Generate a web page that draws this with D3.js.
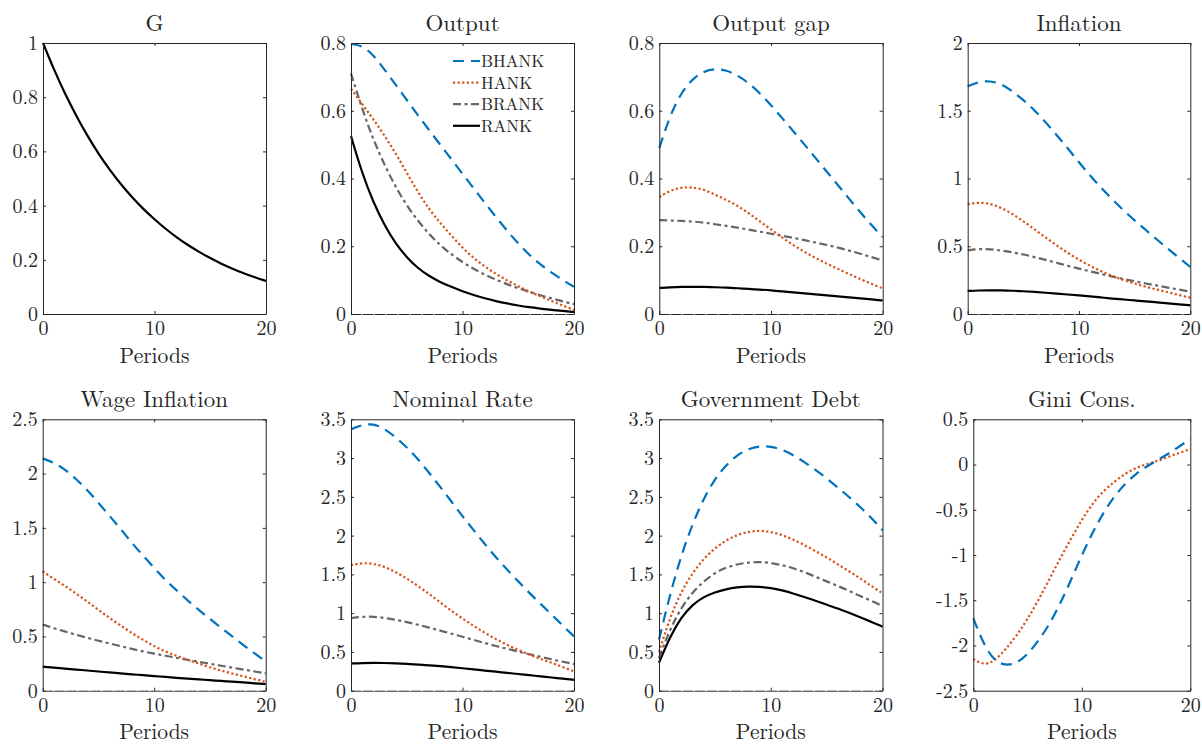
<!DOCTYPE html>
<html>
<head>
<meta charset="utf-8">
<script src="https://cdn.jsdelivr.net/npm/d3@7"></script>
<style>
  body { margin: 0; background: #fff; }
  svg { display: block; }
  text { font-family: "Latin Modern Roman", "CMU Serif", "Liberation Serif", serif; fill: #262626; }
</style>
</head>
<body>
<svg id="chart" width="1202" height="745"></svg>
<script>
// periods on the horizontal axis
var periods = [0,1,2,3,4,5,6,7,8,9,10,11,12,13,14,15,16,17,18,19,20];
var models = ['BHANK', 'HANK', 'BRANK', 'RANK'];

// G
var gShock = [1, .9, .81, .73, .656, .59, .531, .478, .43, .387, .349, .314, .282, .254, .229, .206, .185, .167, .15, .135, .122];

// Output
var outBHANK = [.797, .793, .765, .722, .677, .632, .587, .543, .5, .457, .414, .371, .328, .286, .246, .208, .174, .146, .122, .1, .08];
var outHANK  = [.665, .62, .575, .527, .475, .417, .36, .31, .268, .232, .195, .165, .14, .118, .099, .082, .066, .052, .038, .025, .012];
var outBRANK = [.71, .605, .515, .44, .375, .32, .275, .236, .203, .176, .153, .133, .116, .101, .088, .076, .065, .055, .046, .037, .029];
var outRANK  = [.525, .415, .33, .262, .208, .167, .135, .112, .094, .08, .067, .056, .046, .038, .031, .025, .02, .016, .012, .009, .006];

// Output gap
var gapBHANK = [.49, .59, .655, .695, .717, .724, .72, .705, .682, .652, .617, .578, .54, .5, .46, .42, .38, .34, .3, .262, .227];
var gapHANK  = [.345, .365, .374, .374, .368, .352, .337, .32, .298, .273, .25, .226, .203, .183, .165, .148, .133, .118, .103, .089, .075];
var gapBRANK = [.277, .276, .275, .273, .27, .265, .26, .255, .249, .243, .237, .231, .225, .218, .211, .204, .196, .187, .178, .168, .158];
var gapRANK  = [.077, .079, .08, .08, .08, .079, .078, .076, .074, .072, .07, .067, .064, .061, .058, .055, .052, .049, .046, .043, .04];

// Inflation
var infBHANK = [1.68, 1.715, 1.72, 1.7, 1.645, 1.58, 1.505, 1.415, 1.32, 1.222, 1.12, 1.02, .93, .845, .765, .69, .62, .55, .48, .413, .347];
var infHANK  = [.81, .825, .815, .785, .74, .685, .625, .565, .505, .45, .4, .355, .315, .28, .25, .225, .2, .18, .16, .14, .12];
var infBRANK = [.47, .48, .478, .47, .455, .44, .42, .4, .378, .355, .335, .315, .295, .276, .258, .241, .225, .21, .195, .18, .165];
var infRANK  = [.17, .174, .175, .174, .172, .168, .163, .157, .151, .144, .137, .13, .122, .114, .107, .1, .093, .086, .079, .071, .064];

// Wage inflation
var wageBHANK = [2.14, 2.1, 2.04, 1.95, 1.85, 1.73, 1.61, 1.49, 1.36, 1.245, 1.13, 1.02, .925, .83, .745, .66, .58, .5, .42, .345, .267];
var wageHANK  = [1.1, 1.03, .965, .895, .82, .745, .67, .6, .53, .468, .41, .36, .32, .285, .25, .215, .185, .158, .132, .107, .083];
var wageBRANK = [.61, .575, .545, .515, .487, .46, .435, .41, .385, .362, .341, .322, .303, .284, .266, .248, .23, .212, .195, .177, .16];
var wageRANK  = [.221, .212, .204, .195, .186, .177, .168, .159, .151, .143, .135, .127, .119, .111, .104, .097, .09, .083, .076, .068, .061];

// Nominal rate
var rateBHANK = [3.37, 3.43, 3.445, 3.38, 3.27, 3.14, 2.99, 2.81, 2.63, 2.44, 2.25, 2.07, 1.89, 1.72, 1.56, 1.41, 1.26, 1.12, .98, .84, .7];
var rateHANK  = [1.62, 1.648, 1.64, 1.6, 1.53, 1.45, 1.35, 1.25, 1.14, 1.03, .93, .835, .745, .665, .59, .525, .465, .41, .36, .305, .25];
var rateBRANK = [.935, .955, .955, .94, .915, .885, .85, .815, .775, .735, .695, .655, .615, .575, .54, .505, .47, .437, .405, .373, .343];
var rateRANK  = [.35, .357, .36, .358, .353, .346, .337, .327, .316, .304, .29, .275, .26, .245, .23, .215, .2, .185, .17, .155, .14];

// Government debt
var debtBHANK = [.66, 1.25, 1.75, 2.15, 2.48, 2.73, 2.91, 3.04, 3.12, 3.155, 3.15, 3.11, 3.04, 2.95, 2.85, 2.74, 2.62, 2.5, 2.37, 2.23, 2.07];
var debtHANK  = [.5, .95, 1.28, 1.52, 1.7, 1.84, 1.94, 2.01, 2.05, 2.065, 2.05, 2.01, 1.95, 1.88, 1.8, 1.72, 1.63, 1.54, 1.45, 1.35, 1.256];
var debtBRANK = [.42, .8, 1.07, 1.27, 1.41, 1.52, 1.59, 1.63, 1.655, 1.66, 1.65, 1.62, 1.58, 1.53, 1.47, 1.41, 1.35, 1.29, 1.22, 1.16, 1.09];
var debtRANK  = [.36, .7, .95, 1.11, 1.21, 1.27, 1.31, 1.335, 1.345, 1.34, 1.325, 1.295, 1.255, 1.21, 1.16, 1.11, 1.06, 1.005, .948, .888, .826];

// Gini consumption
var giniBHANK = [-1.7, -2.0, -2.18, -2.22, -2.2, -2.1, -1.95, -1.77, -1.54, -1.28, -1.0, -.75, -.53, -.35, -.21, -.1, -.02, .05, .12, .2, .285];
var giniHANK  = [-2.15, -2.22, -2.17, -2.04, -1.89, -1.71, -1.5, -1.27, -1.04, -.82, -.61, -.43, -.29, -.19, -.1, -.035, .005, .04, .085, .13, .17];

var styles = {
  BHANK: { color: '#0072BD', dash: '11,7' },
  HANK:  { color: '#D95319', dash: '2.2,2.4' },
  BRANK: { color: '#666666', dash: '8,3.5,3,3.5' },
  RANK:  { color: '#000000', dash: null }
};

var panels = [
  { title: 'G', y: [0, 1], ticks: [0, .2, .4, .6, .8, 1], zero: false,
    series: [{ m: 'RANK', v: gShock }] },
  { title: 'Output', y: [0, .8], ticks: [0, .2, .4, .6, .8], zero: true, legend: true,
    series: [{ m: 'RANK', v: outRANK }, { m: 'BRANK', v: outBRANK }, { m: 'HANK', v: outHANK }, { m: 'BHANK', v: outBHANK }] },
  { title: 'Output gap', y: [0, .8], ticks: [0, .2, .4, .6, .8], zero: true,
    series: [{ m: 'RANK', v: gapRANK }, { m: 'BRANK', v: gapBRANK }, { m: 'HANK', v: gapHANK }, { m: 'BHANK', v: gapBHANK }] },
  { title: 'Inflation', y: [0, 2], ticks: [0, .5, 1, 1.5, 2], zero: true,
    series: [{ m: 'RANK', v: infRANK }, { m: 'BRANK', v: infBRANK }, { m: 'HANK', v: infHANK }, { m: 'BHANK', v: infBHANK }] },
  { title: 'Wage Inflation', y: [0, 2.5], ticks: [0, .5, 1, 1.5, 2, 2.5], zero: true,
    series: [{ m: 'RANK', v: wageRANK }, { m: 'BRANK', v: wageBRANK }, { m: 'HANK', v: wageHANK }, { m: 'BHANK', v: wageBHANK }] },
  { title: 'Nominal Rate', y: [0, 3.5], ticks: [0, .5, 1, 1.5, 2, 2.5, 3, 3.5], zero: true,
    series: [{ m: 'RANK', v: rateRANK }, { m: 'BRANK', v: rateBRANK }, { m: 'HANK', v: rateHANK }, { m: 'BHANK', v: rateBHANK }] },
  { title: 'Government Debt', y: [0, 3.5], ticks: [0, .5, 1, 1.5, 2, 2.5, 3, 3.5], zero: true,
    series: [{ m: 'RANK', v: debtRANK }, { m: 'BRANK', v: debtBRANK }, { m: 'HANK', v: debtHANK }, { m: 'BHANK', v: debtBHANK }] },
  { title: 'Gini Cons.', y: [-2.5, .5], ticks: [-2.5, -2, -1.5, -1, -.5, 0, .5], zero: false,
    series: [{ m: 'HANK', v: giniHANK }, { m: 'BHANK', v: giniBHANK }] }
];

// axes boxes in pixels
var boxes = [
  { x: 43, y: 43, w: 223, h: 271 },
  { x: 351, y: 43, w: 223, h: 271 },
  { x: 659.3, y: 43, w: 223.4, h: 271 },
  { x: 967.7, y: 43, w: 222.6, h: 271 },
  { x: 42.7, y: 419.3, w: 223, h: 271.4 },
  { x: 351, y: 419.3, w: 223, h: 271.4 },
  { x: 659, y: 419.3, w: 223.5, h: 271.4 },
  { x: 973.3, y: 419.3, w: 217, h: 271.4 }
];

var svg = d3.select('#chart');
var fmt = function(d) { return String(+d.toFixed(2)); };

panels.forEach(function(p, i) {
  var b = boxes[i];
  var g = svg.append('g').attr('transform', 'translate(' + b.x + ',' + b.y + ')');
  var x = d3.scaleLinear().domain([0, 20]).range([0, b.w]);
  var y = d3.scaleLinear().domain(p.y).range([b.h, 0]);

  var line = d3.line()
    .x(function(d, j) { return x(periods[j]); })
    .y(function(d) { return y(d); })
    .curve(d3.curveBasis);

  p.series.forEach(function(s) {
    var st = styles[s.m];
    g.append('path')
      .datum(s.v)
      .attr('d', line)
      .attr('fill', 'none')
      .attr('stroke', st.color)
      .attr('stroke-width', 2.2)
      .attr('stroke-dasharray', st.dash);
  });

  // axes with inward ticks on all four sides
  var xb = g.append('g').attr('transform', 'translate(0,' + b.h + ')')
    .call(d3.axisBottom(x).tickValues([0, 10, 20]).tickFormat(fmt).tickSizeInner(-3).tickSizeOuter(0).tickPadding(7));
  var xt = g.append('g')
    .call(d3.axisTop(x).tickValues([0, 10, 20]).tickFormat('').tickSizeInner(-3).tickSizeOuter(0));
  var yl = g.append('g')
    .call(d3.axisLeft(y).tickValues(p.ticks).tickFormat(fmt).tickSizeInner(-3).tickSizeOuter(0).tickPadding(5));
  var yr = g.append('g').attr('transform', 'translate(' + b.w + ',0)')
    .call(d3.axisRight(y).tickValues(p.ticks).tickFormat('').tickSizeInner(-3).tickSizeOuter(0));

  [xb, xt, yl, yr].forEach(function(a) {
    a.selectAll('.domain').attr('stroke', '#262626').attr('stroke-width', 1);
    a.selectAll('.tick line').attr('stroke', '#262626').attr('stroke-width', 1);
    a.selectAll('text').attr('font-size', 20).attr('fill', '#262626')
      .style('font-family', '"Latin Modern Roman", "CMU Serif", "Liberation Serif", serif');
  });

  if (p.zero) {
    g.append('line')
      .attr('x1', 0).attr('x2', b.w)
      .attr('y1', y(0)).attr('y2', y(0))
      .attr('stroke', '#ffffff').attr('stroke-width', 1)
      .attr('stroke-dasharray', '2,10').attr('stroke-dashoffset', -10);
  }

  g.append('text')
    .attr('x', b.w / 2).attr('y', -12)
    .attr('text-anchor', 'middle')
    .attr('font-size', 23)
    .attr('fill', '#000')
    .text(p.title);

  g.append('text')
    .attr('x', b.w / 2).attr('y', b.h + 48.5)
    .attr('text-anchor', 'middle')
    .attr('font-size', 21.5)
    .attr('fill', '#262626')
    .text('Periods');

  if (p.legend) {
    var lg = g.append('g').attr('transform', 'translate(' + (453 - b.x) + ',' + (61 - b.y) + ')');
    models.forEach(function(m, k) {
      var st = styles[m];
      lg.append('line')
        .attr('x1', 0).attr('x2', 27)
        .attr('y1', k * 21.6).attr('y2', k * 21.6)
        .attr('stroke', st.color).attr('stroke-width', 2.2)
        .attr('stroke-dasharray', st.dash);
      lg.append('text')
        .attr('x', 28).attr('y', k * 21.6)
        .attr('dy', '0.35em')
        .attr('font-size', 17)
        .attr('fill', '#262626')
        .text(m);
    });
  }
});
</script>
</body>
</html>
